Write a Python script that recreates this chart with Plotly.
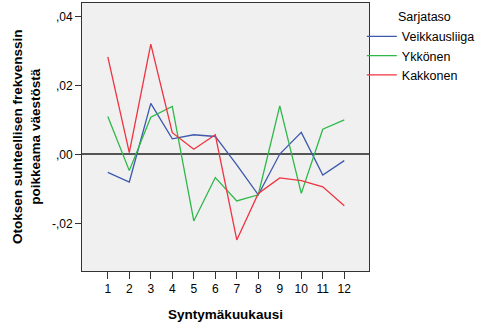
import plotly.graph_objects as go

months = list(range(1, 13))
veikkausliiga = [-0.0052, -0.0080, 0.0148, 0.0045, 0.0057, 0.0052, -0.0030, -0.0117, 0.0001, 0.0064, -0.0060, -0.0018]
ykkonen = [0.0110, -0.0047, 0.0108, 0.0139, -0.0193, -0.0067, -0.0135, -0.0117, 0.0141, -0.0113, 0.0073, 0.0100]
kakkonen = [0.0283, 0.0005, 0.0320, 0.0063, 0.0015, 0.0057, -0.0248, -0.0113, -0.0068, -0.0076, -0.0094, -0.0149]
series_names = ["Veikkausliiga", "Ykkönen", "Kakkonen"]
colors = ["#3e58ac", "#2eb848", "#ef3340"]
y_ticks = [-0.02, 0.0, 0.02, 0.04]
y_tick_labels = ["-,02", ",00", ",02", ",04"]

fig = go.Figure()
for name, vals, c in zip(series_names, [veikkausliiga, ykkonen, kakkonen], colors):
    fig.add_trace(go.Scatter(x=months, y=vals, mode="lines", name=name,
                             line=dict(color=c, width=1.3)))

font = "Liberation Sans, Arial, sans-serif"
fig.update_layout(
    width=477, height=334,
    margin=dict(l=82, r=108, t=3, b=63, autoexpand=False),
    paper_bgcolor="white", plot_bgcolor="#f0f0f0",
    font=dict(family=font, size=12, color="#000"),
    showlegend=True,
    legend=dict(x=0.975, y=0.93, xanchor="left", yanchor="top",
                font=dict(size=12.5), bgcolor="rgba(0,0,0,0)",
                tracegroupgap=0, itemwidth=30),
    xaxis=dict(range=[-0.2, 13.15], tickvals=months, ticktext=[str(m) for m in months],
               showgrid=False, zeroline=False, ticks="outside", ticklen=7,
               tickcolor="#333", showline=True, linecolor="#333", linewidth=1, mirror=True,
               tickfont=dict(size=12),
               title=dict(text="<b>Syntymäkuukausi</b>", font=dict(size=13.5), standoff=14)),
    yaxis=dict(range=[-0.0338, 0.0439], tickvals=y_ticks, ticktext=y_tick_labels,
               showgrid=False, zeroline=True, zerolinecolor="#555", zerolinewidth=1.5,
               ticks="outside", ticklen=6, tickcolor="#333",
               showline=True, linecolor="#333", linewidth=1, mirror=True,
               tickfont=dict(size=12)),
    annotations=[
        dict(text="<b>Otoksen suhteellisen frekvenssin<br>poikkeama väestöstä</b>",
             xref="paper", yref="paper", x=-0.195, y=0.5, xanchor="center", yanchor="middle",
             textangle=-90, showarrow=False, font=dict(size=13.5)),
        dict(text="Sarjataso", xref="paper", yref="paper", x=1.095, y=0.9475,
             xanchor="left", yanchor="middle", showarrow=False, font=dict(size=12.5)),
    ],
)

fig.write_html("out.html")
